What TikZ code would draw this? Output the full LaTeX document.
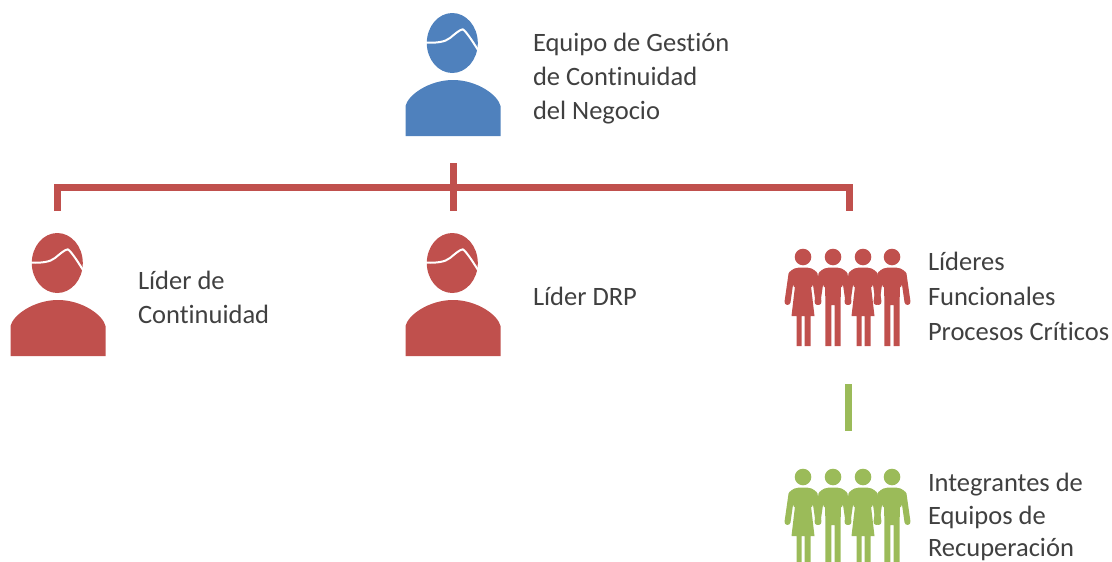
\documentclass[tikz,border=0pt]{standalone}
\usepackage{fontspec}
\setmainfont[Ligatures=NoCommon]{Carlito}
\definecolor{blueC}{HTML}{4F81BD}
\definecolor{redC}{HTML}{C0504D}
\definecolor{greenC}{HTML}{9BBB59}
\definecolor{textC}{HTML}{404040}
\tikzset{
  x=1pt,y=-1pt,
  label/.style={inner sep=0pt,outer sep=0pt,anchor=north west,align=left,text=textC,font=\fontsize{26.5}{34}\selectfont},
  redline/.style={line width=7pt,draw=redC},
  greenline/.style={line width=7pt,draw=greenC},
  bust/.pic={
    \fill (-0.7,43) ellipse [x radius=25.5,y radius=30];
    \fill (-47.5,136) -- (-47.5,106) .. controls (-45,95) and (-24,80) .. (0,80)
      .. controls (24,80) and (45,95) .. (47.5,106) -- (47.5,136) -- cycle;
    \draw[white,line width=2pt,line cap=round,line join=round] (-26.5,42.7) .. controls (-16,43) and (-8,42) .. (-3,38)
      .. controls (2,34) and (6,30) .. (9.7,29.3) .. controls (13,31) and (20,42) .. (25,50);
  },
  limbs/.pic={
    \fill (0,0) circle [radius=8.3];
    \fill (0,10.5) .. controls (6,10.5) and (12,11) .. (14,17) -- (9,30) -- (-9,30) -- (-14,17)
      .. controls (-12,11) and (-6,10.5) .. (0,10.5) -- cycle;
    \draw[line width=6pt,line cap=round] (-11.5,17) -- (-15.5,45);
    \draw[line width=6pt,line cap=round] (11.5,17) -- (15.5,45);
  },
  manfig/.pic={
    \pic {limbs};
    \fill (-8,25) -- (8,25) -- (7.6,48) -- (7.6,89) -- (1.6,89) -- (1.6,48) -- (-1.6,48)
      -- (-1.6,89) -- (-7.6,89) -- (-7.6,48) -- cycle;
  },
  womanfig/.pic={
    \pic {limbs};
    \fill (-7.5,25) -- (7.5,25) -- (11.5,59) -- (7.5,59) -- (7.5,89) -- (1.5,89) -- (1.5,59) -- (-1.5,59)
      -- (-1.5,89) -- (-6.5,89) -- (-6.5,59) -- (-11.5,59) -- cycle;
  },
  group/.pic={
    \pic at (-45,0) {womanfig};
    \pic at (-15,0) {manfig};
    \pic at (15,0) {womanfig};
    \pic at (44,0) {manfig};
  },
}
\begin{document}
\begin{tikzpicture}
\useasboundingbox (0,0) rectangle (1112,562);
\clip (0,0) rectangle (1112,562);
\begin{scope}[color=blueC]\pic at (453,0) {bust};\end{scope}
\begin{scope}[color=redC]
  \pic at (58,220) {bust};
  \pic at (453,220) {bust};
  \pic at (848,257) {group};
\end{scope}
\begin{scope}[color=greenC]\pic at (848,477) {group};\end{scope}

\node[label] (tTop) at (533,33.5) {Equipo de Gestión\\de Continuidad\\del Negocio};
\node[label] (tCont) at (138,271.5) {Líder de\\Continuidad};
\node[label] (tDrp) at (533,287) {Líder DRP};
\node[label,font=\fontsize{26.5}{34.7}\selectfont] (tFunc) at (928,252.5) {Líderes\\Funcionales\\Procesos Críticos};
\node[label,font=\fontsize{26.5}{32.5}\selectfont] (tRec) at (928,473.5) {Integrantes de\\Equipos de\\Recuperación};

\coordinate (rootTop) at (453,163);
\coordinate (dropC) at (453,211);
\coordinate (busL) at (57,187);
\coordinate (dropL) at (57,211);
\coordinate (busR) at (849,187);
\coordinate (dropR) at (849,211);
\coordinate (greenTop) at (848,384);
\coordinate (greenBot) at (848,431);
\draw[redline] (rootTop) -- (dropC);
\draw[redline,line join=miter] (dropL) -- (busL) -- (busR) -- (dropR);
\draw[greenline] (greenTop) -- (greenBot);
\end{tikzpicture}
\end{document}
